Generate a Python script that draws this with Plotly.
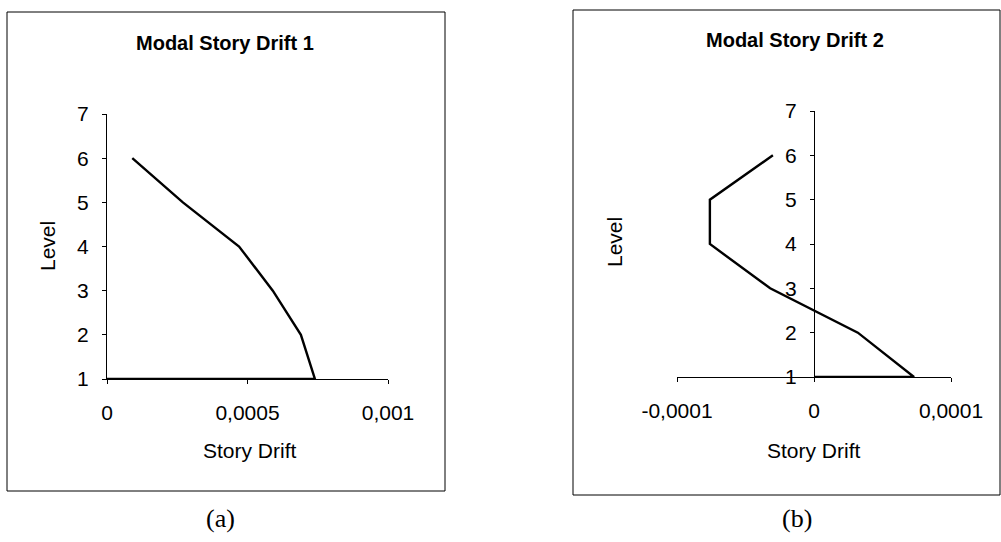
import plotly.graph_objects as go

# Storey levels (level 1 is the base, drift starts from zero there)
levels = [1, 1, 2, 3, 4, 5, 6]

# Mode 1 modal story drift per level
drift_mode1 = [0.0, 0.00074, 0.00069, 0.00059, 0.00047, 0.00027, 0.00009]

# Mode 2 modal story drift per level
drift_mode2 = [0.0, 0.000073, 0.000032, -0.000032, -0.000076, -0.000076, -0.00003]

# Tick values / labels (decimal comma)
x1_ticks = [0, 0.0005, 0.001]
x1_labels = ["0", "0,0005", "0,001"]
x2_ticks = [-0.0001, 0, 0.0001]
x2_labels = ["-0,0001", "0", "0,0001"]
y_ticks = [1, 2, 3, 4, 5, 6, 7]

W, H = 1001, 542
SANS = "Liberation Sans, Arial, sans-serif"
SERIF = "Liberation Serif, Times New Roman, serif"


def fx(p):
    return p / W


def fy(p):
    return 1 - p / H


fig = go.Figure()
fig.add_trace(go.Scatter(x=drift_mode1, y=levels, mode="lines",
                         line=dict(color="black", width=2.4),
                         xaxis="x", yaxis="y", hoverinfo="x+y"))
fig.add_trace(go.Scatter(x=drift_mode2, y=levels, mode="lines",
                         line=dict(color="black", width=2.4),
                         xaxis="x2", yaxis="y2", hoverinfo="x+y"))

axis_common = dict(showgrid=False, zeroline=False, showline=True,
                   linecolor="black", linewidth=1, ticks="outside",
                   ticklen=4, tickcolor="black", automargin=False,
                   tickfont=dict(family=SANS, size=21, color="black"))

x1_dom = [fx(107), fx(388)]
x2_dom = [fx(677), fx(951)]

fig.update_layout(
    width=W, height=H, autosize=False,
    margin=dict(l=0, r=0, t=0, b=0, pad=0, autoexpand=False),
    paper_bgcolor="white", plot_bgcolor="white",
    showlegend=False,
    xaxis=dict(domain=x1_dom, range=[0, 0.001], anchor="y",
               tickvals=x1_ticks, ticktext=x1_labels,
               ticklabelstandoff=11, **axis_common),
    yaxis=dict(domain=[fy(379), fy(114)], range=[1, 7], anchor="x",
               tickvals=y_ticks, ticklabelstandoff=9, **axis_common),
    xaxis2=dict(domain=x2_dom, range=[-0.0001, 0.0001], anchor="y2",
                tickvals=x2_ticks, ticktext=x2_labels,
                ticklabelstandoff=11, **axis_common),
    yaxis2=dict(domain=[fy(377), fy(111)], range=[1, 7], anchor="free",
                position=(x2_dom[0] + x2_dom[1]) / 2,
                tickvals=y_ticks, ticklabelstandoff=9, **axis_common),
)

# Chart frames
for x0, x1, y0, y1 in [(7, 445, 12, 491), (573, 1000, 10, 495)]:
    fig.add_shape(type="rect", xref="paper", yref="paper",
                  x0=fx(x0), x1=fx(x1), y0=fy(y1), y1=fy(y0),
                  line=dict(color="black", width=1), layer="above")


def label(text, x, y, size, bold=False, angle=0, family=SANS):
    fig.add_annotation(text=f"<b>{text}</b>" if bold else text,
                       x=fx(x), y=fy(y), xref="paper", yref="paper",
                       xanchor="center", yanchor="middle", showarrow=False,
                       textangle=angle,
                       font=dict(family=family, size=size, color="black"))


# Titles
label("Modal Story Drift 1", 225, 43, 20, bold=True)
label("Modal Story Drift 2", 795, 40, 20, bold=True)

# Axis titles
label("Story Drift", 250, 450, 21)
label("Story Drift", 814, 450, 21)
label("Level", 47, 246, 21, angle=-90)
label("Level", 615, 242, 21, angle=-90)

# Panel captions
label("(a)", 220, 518, 26, family=SERIF)
label("(b)", 797, 518, 26, family=SERIF)

fig.write_html("out.html")
